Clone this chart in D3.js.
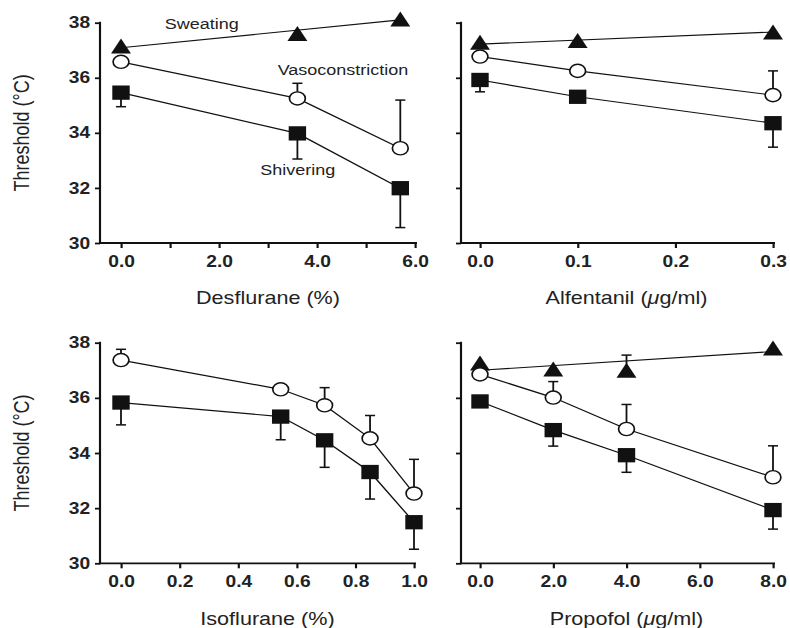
<!DOCTYPE html>
<html>
<head>
<meta charset="utf-8">
<script src="https://cdn.jsdelivr.net/npm/d3@7"></script>
<style>
  body { margin: 0; background: #fff; }
  text { font-family: "Liberation Sans", Arial, Helvetica, sans-serif; fill: #222; }
</style>
</head>
<body>
<svg id="chart" width="790" height="628"></svg>
<script>
// values
const yTicks = [30, 32, 34, 36, 38];

const desX = [0, 3.6, 5.7];
const desSweat = [37.15, 37.61, 38.13];
const desSweatFit = [37.09, 38.1];
const desVaso = [36.58, 35.25, 33.44];
const desVasoSd = [0, 0.55, 1.75];
const desShiv = [35.46, 33.98, 31.99];
const desShivSd = [0.51, 0.93, 1.43];
const desTicks = [0, 1, 2, 3, 4, 5, 6];
const desLabels = ["0.0", "", "2.0", "", "4.0", "", "6.0"];

const alfX = [0, 0.1, 0.3];
const alfSweat = [37.29, 37.35, 37.66];
const alfSweatFit = [37.22, 37.66];
const alfVaso = [36.77, 36.25, 35.37];
const alfVasoSd = [0, 0, 0.88];
const alfShiv = [35.92, 35.31, 34.35];
const alfShivSd = [0.43, 0, 0.87];
const alfTicks = [0, 0.1, 0.2, 0.3];
const alfLabels = ["0.0", "0.1", "0.2", "0.3"];

const isoX = [0, 0.545, 0.695, 0.85, 1.0];
const isoVaso = [37.37, 36.31, 35.73, 34.53, 32.53];
const isoVasoSd = [0.39, 0, 0.64, 0.83, 1.24];
const isoShiv = [35.83, 35.32, 34.46, 33.31, 31.49];
const isoShivSd = [0.81, 0.84, 0.98, 0.98, 0.98];
const isoTicks = [0, 0.2, 0.4, 0.6, 0.8, 1.0];
const isoLabels = ["0.0", "0.2", "0.4", "0.6", "0.8", "1.0"];

const proX = [0, 2, 4, 8];
const proSweat = [37.26, 37.05, 37.0, 37.81];
const proSweatSd = [0, 0, 0.55, 0];
const proSweatFit = [37.0, 37.68];
const proVaso = [36.85, 36.01, 34.87, 33.12];
const proVasoSd = [0, 0.58, 0.89, 1.14];
const proShiv = [35.87, 34.83, 33.92, 31.93];
const proShivSd = [0, 0.58, 0.62, 0.69];
const proTicks = [0, 2, 4, 6, 8];
const proLabels = ["0.0", "2.0", "4.0", "6.0", "8.0"];

// the original figure is stretched sideways, so draw in a squeezed frame
const SX = 1.2;

const panels = [
    { title: [["Desflurane (%)", false]], x: desX, ticks: desTicks, labels: desLabels,
      sweat: desSweat, sweatSd: null, sweatFit: desSweatFit,
      vaso: desVaso, vasoSd: desVasoSd, shiv: desShiv, shivSd: desShivSd,
      ax: 100, r0: 121, r1: 415, top: 22.7, bot: 243, left: true },
    { title: [["Alfentanil (", false], ["\u03bc", true], ["g/ml)", false]], x: alfX, ticks: alfTicks, labels: alfLabels,
      sweat: alfSweat, sweatSd: null, sweatFit: alfSweatFit,
      vaso: alfVaso, vasoSd: alfVasoSd, shiv: alfShiv, shivSd: alfShivSd,
      ax: 461, r0: 480, r1: 773, top: 22.7, bot: 243, left: false },
    { title: [["Isoflurane (%)", false]], x: isoX, ticks: isoTicks, labels: isoLabels,
      sweat: null, sweatSd: null, sweatFit: null,
      vaso: isoVaso, vasoSd: isoVasoSd, shiv: isoShiv, shivSd: isoShivSd,
      ax: 100, r0: 121, r1: 414, top: 342.7, bot: 563.3, left: true },
    { title: [["Propofol (", false], ["\u03bc", true], ["g/ml)", false]], x: proX, ticks: proTicks, labels: proLabels,
      sweat: proSweat, sweatSd: proSweatSd, sweatFit: proSweatFit,
      vaso: proVaso, vasoSd: proVasoSd, shiv: proShiv, shivSd: proShivSd,
      ax: 461, r0: 480, r1: 773, top: 342.7, bot: 563.3, left: false }
];

const svg = d3.select("#chart");
const root = svg.append("g").attr("transform", `scale(${SX},1)`);

const tri = "M0,-7.5L8.3,7.5L-8.3,7.5Z";

panels.forEach(p => {
    const g = root.append("g");
    const x = d3.scaleLinear()
        .domain([0, d3.max(p.ticks)])
        .range([p.r0 / SX, p.r1 / SX]);
    const y = d3.scaleLinear()
        .domain([30, 38])
        .range([p.bot, p.top]);

    // axes
    const xAxis = g.append("g")
        .attr("transform", `translate(0,${y(30)})`)
        .call(d3.axisBottom(x)
            .tickValues(p.ticks)
            .tickSize(5)
            .tickPadding(7.5)
            .tickFormat((d, i) => p.labels[i]));
    xAxis.select(".domain").remove();

    const yAxis = g.append("g")
        .attr("transform", `translate(${p.ax / SX},0)`)
        .call(d3.axisLeft(y)
            .tickValues(yTicks)
            .tickSize(4.2)
            .tickPadding(4)
            .tickFormat(p.left ? d3.format("d") : () => ""));
    yAxis.select(".domain").remove();

    [xAxis, yAxis].forEach(a => {
        a.attr("font-size", null).attr("font-family", null);
        a.selectAll(".tick line").attr("stroke", "#111").attr("stroke-width", 1.8);
        a.selectAll(".tick text")
            .style("font-size", "16px")
            .style("font-weight", "bold")
            .attr("fill", "#2a2a2a");
    });

    g.append("line")
        .attr("x1", p.ax / SX).attr("x2", p.ax / SX)
        .attr("y1", y(38) - 0.9).attr("y2", y(30) + 0.9)
        .attr("stroke", "#111").attr("stroke-width", 1.8);
    g.append("line")
        .attr("x1", p.ax / SX).attr("x2", (p.r1 + 2) / SX)
        .attr("y1", y(30)).attr("y2", y(30))
        .attr("stroke", "#111").attr("stroke-width", 1.8);

    // axis titles
    const t = g.append("text")
        .attr("x", (p.r0 + p.r1) / 2 / SX)
        .attr("y", p.bot + 61.5)
        .attr("text-anchor", "middle")
        .style("font-size", "18px")
        .attr("fill", "#333");
    p.title.forEach(([s, it]) => {
        t.append("tspan").attr("font-style", it ? "italic" : null).text(s);
    });

    if (p.left) {
        g.append("text")
            .attr("transform", `translate(${29 / SX},${(p.top + p.bot) / 2}) rotate(-90)`)
            .attr("text-anchor", "middle")
            .style("font-size", "18px")
            .attr("fill", "#333")
            .text("Threshold (\u00b0C)");
    }

    const line = d3.line().x((d, i) => x(p.x[i])).y(d => y(d));
    const lines = g.append("g").attr("fill", "none").attr("stroke", "#111").attr("stroke-width", 1.2);

    if (p.sweatFit) {
        lines.append("line")
            .attr("x1", x(p.x[0])).attr("y1", y(p.sweatFit[0]))
            .attr("x2", x(p.x[p.x.length - 1])).attr("y2", y(p.sweatFit[1]));
    }
    lines.append("path").attr("d", line(p.vaso));
    lines.append("path").attr("d", line(p.shiv));

    // error bars: vaso and sweat upward, shivering downward
    const bars = [];
    p.vaso.forEach((v, i) => { if (p.vasoSd[i]) bars.push([p.x[i], v, v + p.vasoSd[i]]); });
    p.shiv.forEach((v, i) => { if (p.shivSd[i]) bars.push([p.x[i], v, v - p.shivSd[i]]); });
    if (p.sweatSd) p.sweat.forEach((v, i) => { if (p.sweatSd[i]) bars.push([p.x[i], v, v + p.sweatSd[i]]); });

    const eb = g.append("g").attr("stroke", "#111").attr("stroke-width", 1.5);
    eb.selectAll(".stem").data(bars).enter().append("line")
        .attr("x1", d => x(d[0])).attr("x2", d => x(d[0]))
        .attr("y1", d => y(d[1])).attr("y2", d => y(d[2]));
    eb.selectAll(".cap").data(bars).enter().append("line")
        .attr("x1", d => x(d[0]) - 4.2).attr("x2", d => x(d[0]) + 4.2)
        .attr("y1", d => y(d[2])).attr("y2", d => y(d[2]));

    // markers
    if (p.sweat) {
        g.append("g").selectAll("path").data(p.sweat).enter().append("path")
            .attr("d", tri)
            .attr("transform", (d, i) => `translate(${x(p.x[i])},${y(d)})`)
            .attr("fill", "#111");
    }
    g.append("g").selectAll("rect").data(p.shiv).enter().append("rect")
        .attr("x", (d, i) => x(p.x[i]) - 7.25)
        .attr("y", d => y(d) - 7.15)
        .attr("width", 14.5).attr("height", 14.3)
        .attr("fill", "#111");
    g.append("g").selectAll("circle").data(p.vaso).enter().append("circle")
        .attr("cx", (d, i) => x(p.x[i]))
        .attr("cy", d => y(d))
        .attr("r", 6.6)
        .attr("fill", "#fff")
        .attr("stroke", "#111")
        .attr("stroke-width", 1.4);
});

// series names in the first panel
const notes = [["Sweating", 201.7, 29.5], ["Vasoconstriction", 343, 75.5], ["Shivering", 297.7, 175.5]];
root.append("g").selectAll("text").data(notes).enter().append("text")
    .attr("x", d => d[1] / SX)
    .attr("y", d => d[2])
    .attr("text-anchor", "middle")
    .style("font-size", "15px")
    .attr("fill", "#333")
    .text(d => d[0]);
</script>
</body>
</html>
